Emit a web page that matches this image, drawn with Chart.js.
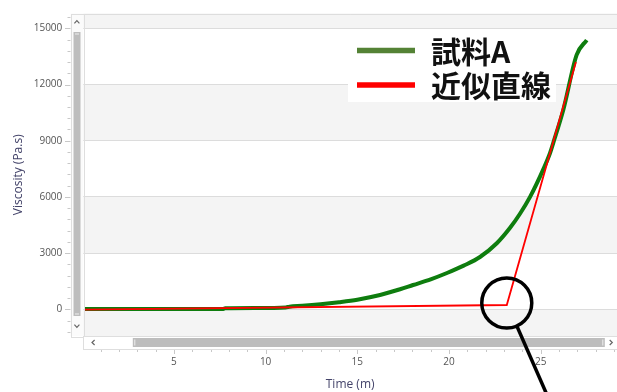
<!DOCTYPE html>
<html>
<head>
<meta charset="utf-8">
<script src="https://cdn.jsdelivr.net/npm/chart.js@4/dist/chart.umd.min.js"></script>
<style>
  html, body { margin: 0; padding: 0; background: #ffffff; }
  #wrap { width: 617px; height: 392px; }
</style>
</head>
<body>
<div id="wrap"><canvas id="c" width="617" height="392"></canvas></div>
<script>
// Measured viscosity of sample A over time
const sampleTime = [0.1, 2, 4, 6, 7.7, 7.8, 9.5, 11.1, 11.3, 12, 13, 14, 15, 16.24, 17.33, 18.04, 19.0, 19.89, 20.8, 21.69, 22.62, 23.33, 23.87, 24.42, 25.14, 25.51, 25.69, 26.23, 26.96, 27.51];
const sampleViscosity = [10, 10, 15, 15, 20, 55, 70, 100, 140, 185, 270, 380, 515, 763, 1070, 1297, 1600, 1938, 2330, 2792, 3540, 4350, 5100, 6000, 7470, 8344, 8900, 10640, 13580, 14375];

// Two-segment fitted line (flat part, then steep rise)
const fitTime = [0.1, 23.15, 26.92];
const fitViscosity = [-20, 230, 13200];

// Axis ticks
const xTickValues = [5, 10, 15, 20, 25];
const yTickValues = [0, 3000, 6000, 9000, 12000, 15000];

// Series names and colours
const seriesNames = ['試料A', '近似直線'];
const lineColors = ['#0e7d0e', '#ff0000'];
const legendColors = ['#548235', '#ff0000'];

const toPoints = (xs, ys) => xs.map((x, i) => ({ x: x, y: ys[i] }));

// Alternating horizontal bands behind the plot
const bandPlugin = {
  id: 'bands',
  beforeDraw(chart) {
    const { ctx, chartArea: a, scales: { y } } = chart;
    ctx.save();
    ctx.fillStyle = '#ffffff';
    ctx.fillRect(a.left, a.top, a.right - a.left, a.bottom - a.top);
    const edges = [a.top].concat(yTickValues.slice().reverse().map(v => y.getPixelForValue(v)), [a.bottom]);
    ctx.fillStyle = '#f4f4f4';
    for (let i = 0; i < edges.length - 1; i += 2) {
      ctx.fillRect(a.left, edges[i], a.right - a.left, edges[i + 1] - edges[i]);
    }
    ctx.strokeStyle = '#dddddd';
    ctx.lineWidth = 1;
    ctx.beginPath();
    ctx.moveTo(a.left, Math.round(a.top) + 0.5);
    ctx.lineTo(a.right, Math.round(a.top) + 0.5);
    ctx.stroke();
    ctx.restore();
  }
};

function chevron(ctx, x, y, dir) {
  ctx.beginPath();
  if (dir === 'up') { ctx.moveTo(x - 2.5, y + 1.3); ctx.lineTo(x, y - 1.3); ctx.lineTo(x + 2.5, y + 1.3); }
  if (dir === 'down') { ctx.moveTo(x - 2.5, y - 1.3); ctx.lineTo(x, y + 1.3); ctx.lineTo(x + 2.5, y - 1.3); }
  if (dir === 'left') { ctx.moveTo(x + 1.3, y - 2.5); ctx.lineTo(x - 1.3, y); ctx.lineTo(x + 1.3, y + 2.5); }
  if (dir === 'right') { ctx.moveTo(x - 1.3, y - 2.5); ctx.lineTo(x + 1.3, y); ctx.lineTo(x - 1.3, y + 2.5); }
  ctx.stroke();
}

// Scrollbars, minor ticks, legend and the circled break point
const overlayPlugin = {
  id: 'overlay',
  afterDraw(chart) {
    const { ctx, chartArea: a, scales: { x, y } } = chart;
    ctx.save();

    // vertical scrollbar
    const vx0 = a.left - 12.8, vx1 = a.left;
    ctx.fillStyle = '#fbfbfb';
    ctx.fillRect(vx0, a.top, vx1 - vx0, a.bottom - a.top);
    ctx.strokeStyle = '#dedede';
    ctx.lineWidth = 1;
    ctx.strokeRect(Math.round(vx0) + 0.5, Math.round(a.top) + 0.5, Math.round(vx1 - vx0), Math.round(a.bottom - a.top));
    ctx.fillStyle = '#bdbdbd';
    ctx.fillRect(vx0 + 3, a.top + 18.5, 7, 284);
    ctx.strokeStyle = '#eeeeee';
    ctx.beginPath();
    ctx.moveTo(vx0 + 4.5, a.top + 20.5); ctx.lineTo(vx0 + 8.5, a.top + 20.5);
    ctx.moveTo(vx0 + 4.5, a.top + 300.5); ctx.lineTo(vx0 + 8.5, a.top + 300.5);
    ctx.stroke();
    ctx.strokeStyle = '#666666';
    ctx.lineWidth = 1.2;
    chevron(ctx, vx0 + 6.4, a.top + 8.5, 'up');
    chevron(ctx, vx0 + 6.4, a.bottom - 10, 'down');

    // horizontal scrollbar
    const hy0 = a.bottom, hy1 = a.bottom + 13;
    ctx.fillStyle = '#ffffff';
    ctx.fillRect(a.left, hy0, a.right - a.left, hy1 - hy0);
    ctx.strokeStyle = '#dedede';
    ctx.lineWidth = 1;
    ctx.strokeRect(Math.round(a.left) + 0.5, Math.round(hy0) + 0.5, Math.round(a.right - a.left), Math.round(hy1 - hy0));
    ctx.fillStyle = '#bdbdbd';
    ctx.fillRect(a.left + 49.5, hy0 + 2, 472, 9);
    ctx.strokeStyle = '#eeeeee';
    ctx.beginPath();
    ctx.moveTo(a.left + 51.5, hy0 + 3.5); ctx.lineTo(a.left + 51.5, hy0 + 9.5);
    ctx.moveTo(a.left + 519.5, hy0 + 3.5); ctx.lineTo(a.left + 519.5, hy0 + 9.5);
    ctx.stroke();
    ctx.strokeStyle = '#666666';
    ctx.lineWidth = 1.2;
    chevron(ctx, a.left + 10, hy0 + 6.5, 'left');
    chevron(ctx, a.right - 6, hy0 + 6.5, 'right');

    // minor ticks on the x axis
    ctx.strokeStyle = '#c8c8c8';
    ctx.lineWidth = 1;
    ctx.beginPath();
    for (let t = 1; t <= 29; t++) {
      const px = Math.round(x.getPixelForValue(t)) + 0.5;
      const major = t % 5 === 0;
      ctx.moveTo(px, hy1 + 1);
      ctx.lineTo(px, hy1 + (major ? 5 : 3));
    }
    // minor ticks on the y axis
    for (let v = -1200; v <= 15600; v += 600) {
      const py = Math.round(y.getPixelForValue(v)) + 0.5;
      const major = v % 3000 === 0;
      ctx.moveTo(vx0 - (major ? 5.5 : 3), py);
      ctx.lineTo(vx0, py);
    }
    ctx.stroke();

    // legend
    ctx.fillStyle = '#ffffff';
    ctx.fillRect(348, 29, 208, 73);
    const rows = [50.5, 85];
    chart.data.datasets.forEach((ds, i) => {
      ctx.fillStyle = legendColors[i];
      ctx.fillRect(357, rows[i] - 2.75, 58, 5.5);
      ctx.fillStyle = '#111111';
      ctx.font = 'bold 30px "Noto Sans CJK JP", "Noto Sans", sans-serif';
      ctx.textAlign = 'left';
      ctx.textBaseline = 'middle';
      ctx.fillText(ds.label, 431, rows[i] + 1);
    });

    // circled break point of the fitted line
    const cx = x.getPixelForValue(fitTime[1]);
    const cy = y.getPixelForValue(fitViscosity[1]) - 2;
    const r = 25;
    ctx.strokeStyle = '#000000';
    ctx.lineWidth = 3.5;
    ctx.beginPath();
    ctx.arc(cx, cy, r, 0, Math.PI * 2);
    ctx.stroke();
    const dx = 28.3, dy = 64.7, len = Math.hypot(dx, dy);
    const ux = dx / len, uy = dy / len;
    ctx.beginPath();
    ctx.moveTo(cx + ux * r, cy + uy * r);
    ctx.lineTo(cx + ux * (r + 90), cy + uy * (r + 90));
    ctx.stroke();

    ctx.restore();
  }
};

new Chart(document.getElementById('c'), {
  type: 'line',
  data: {
    datasets: [
      {
        label: seriesNames[0],
        data: toPoints(sampleTime, sampleViscosity),
        borderColor: lineColors[0],
        borderWidth: 4,
        pointRadius: 0,
        cubicInterpolationMode: 'monotone',
        fill: false,
        order: 1
      },
      {
        label: seriesNames[1],
        data: toPoints(fitTime, fitViscosity),
        borderColor: lineColors[1],
        borderWidth: 1.8,
        pointRadius: 0,
        tension: 0,
        fill: false,
        order: 0
      }
    ]
  },
  options: {
    responsive: false,
    animation: false,
    devicePixelRatio: 1,
    layout: { padding: { top: 13.5, left: 0, right: 0, bottom: 0 } },
    plugins: { legend: { display: false }, tooltip: { enabled: false } },
    scales: {
      x: {
        type: 'linear',
        min: 0.06,
        max: 29.16,
        afterBuildTicks: s => { s.ticks = xTickValues.map(v => ({ value: v })); },
        afterFit: s => { s.height = 56; s.paddingLeft = 0; s.paddingRight = 0; },
        grid: { display: false, drawTicks: false },
        border: { display: false },
        ticks: {
          padding: 20,
          color: '#555555',
          font: { family: '"Open Sans", sans-serif', size: 10 },
          maxRotation: 0,
          autoSkip: false,
          callback: v => String(v)
        },
        title: {
          display: true,
          text: 'Time (m)',
          color: '#44446a',
          font: { family: '"Open Sans", sans-serif', size: 12 },
          padding: { top: 0, bottom: 0 }
        }
      },
      y: {
        min: -1425,
        max: 15790,
        afterBuildTicks: s => { s.ticks = yTickValues.map(v => ({ value: v })); },
        afterFit: s => { s.width = 83.3; s.paddingTop = 0; s.paddingBottom = 0; },
        grid: { color: '#dcdcdc', lineWidth: 1, drawTicks: false },
        border: { display: false },
        ticks: {
          padding: 21,
          color: '#555555',
          font: { family: '"Open Sans", sans-serif', size: 10 },
          callback: v => String(v)
        },
        title: {
          display: true,
          text: 'Viscosity (Pa.s)',
          color: '#44446a',
          font: { family: '"Open Sans", sans-serif', size: 12 },
          padding: { top: 11, bottom: 0 }
        }
      }
    }
  },
  plugins: [bandPlugin, overlayPlugin]
});
</script>
</body>
</html>
